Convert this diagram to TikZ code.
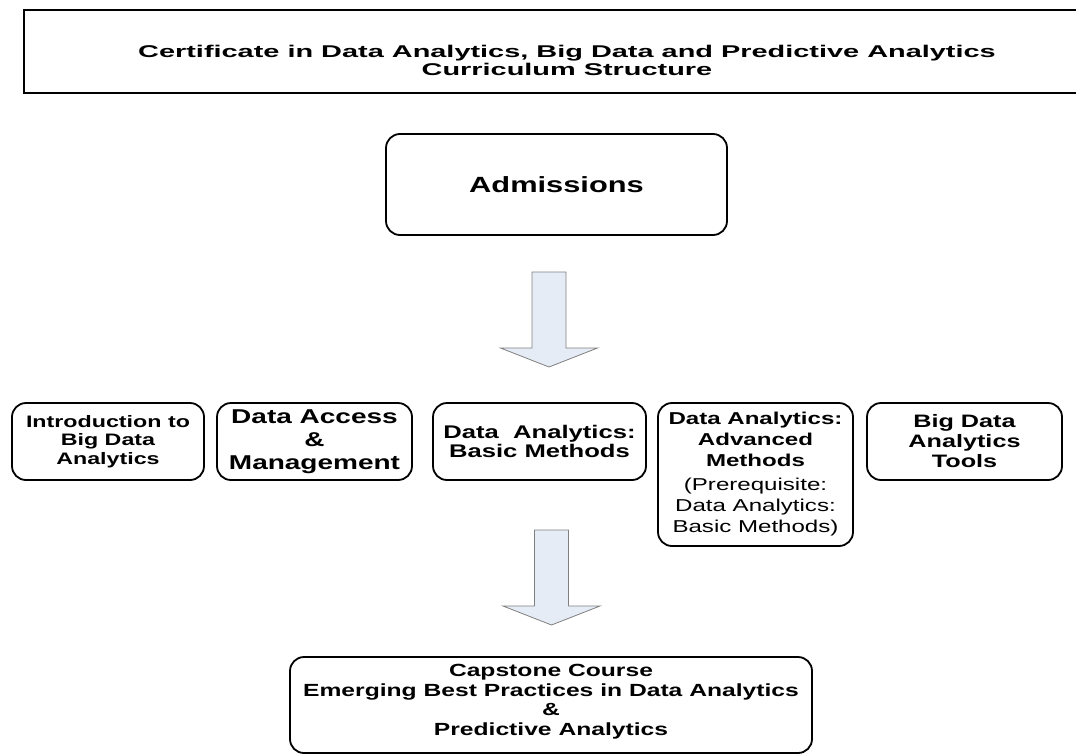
\documentclass[tikz,border=0pt]{standalone}
\usepackage{fontspec}
\setmainfont{Liberation Sans}
\newfontfamily\boxfont{Liberation Sans}[FakeStretch=1.4]
\newfontfamily\titlefont{Liberation Sans}[FakeStretch=1.7]
\definecolor{arrowfill}{HTML}{E6ECF6}
\definecolor{arrowline}{HTML}{7F7F7F}
\tikzset{
  course/.style={draw, line width=1.8pt, rounded corners=14pt, align=center, inner sep=2pt},
  fatarrow/.style={fill=arrowfill, draw=arrowline, line width=0.8pt, line join=miter},
}
\begin{document}
\begin{tikzpicture}[x=1pt,y=-1pt]
    \useasboundingbox (0,0) rectangle (1076,755);

    % Titolo
    \node[draw, line width=1.1pt, minimum width=1066pt, minimum height=83pt, inner sep=0pt] (titlebox) at (557,51.5) {};
    \node[align=center, font=\titlefont\bfseries\fontsize{17}{18}\selectfont] (titletext) at (567,60)
        {Certificate in Data Analytics, Big Data and Predictive Analytics\\Curriculum Structure};

    % Ammissione
    \node[course, minimum width=341pt, minimum height=101pt, font=\boxfont\bfseries\fontsize{22}{24}\selectfont] (adm) at (556.5,184.5) {Admissions};

    % Corsi
    \node[course, minimum width=192pt, minimum height=77pt, font=\boxfont\bfseries\fontsize{16.6}{18.7}\selectfont] (intro) at (108,441.5)
        {Introduction to\\Big Data\\Analytics};
    \node[course, minimum width=195pt, minimum height=77pt, font=\boxfont\bfseries\fontsize{20}{23}\selectfont] (access) at (314.5,441.5)
        {Data Access\\\&\\Management};
    \node[course, minimum width=213pt, minimum height=77pt, font=\boxfont\bfseries\fontsize{18.3}{18.5}\selectfont] (basic) at (539.5,441.5)
        {Data\ \ Analytics:\\Basic Methods};
    \node[course, minimum width=195pt, minimum height=143pt, font=\boxfont\bfseries\fontsize{17.2}{21}\selectfont] (adv) at (755.5,474.5)
        {Data Analytics:\\Advanced\\Methods\\[3pt]\mdseries (Prerequisite:\\\mdseries Data Analytics:\\\mdseries Basic Methods)};
    \node[course, minimum width=195pt, minimum height=77pt, font=\boxfont\bfseries\fontsize{18}{20}\selectfont] (tools) at (964.5,441.5)
        {Big Data\\Analytics\\Tools};

    % Capstone
    \node[course, minimum width=522pt, minimum height=96pt, font=\boxfont\bfseries\fontsize{17.6}{19.5}\selectfont] (cap) at (551,705)
        {Capstone Course\\Emerging Best Practices in Data Analytics\\\&\\Predictive Analytics\\[-9pt]};

    % Frecce
    \foreach \ax/\ay in {549/272, 551.5/530} {
        \draw[fatarrow] (\ax-17,\ay) -- (\ax+17,\ay) -- (\ax+17,\ay+76) -- (\ax+48.5,\ay+76)
            -- (\ax,\ay+95) -- (\ax-48.5,\ay+76) -- (\ax-17,\ay+76) -- cycle;
    }

\end{tikzpicture}
\end{document}
